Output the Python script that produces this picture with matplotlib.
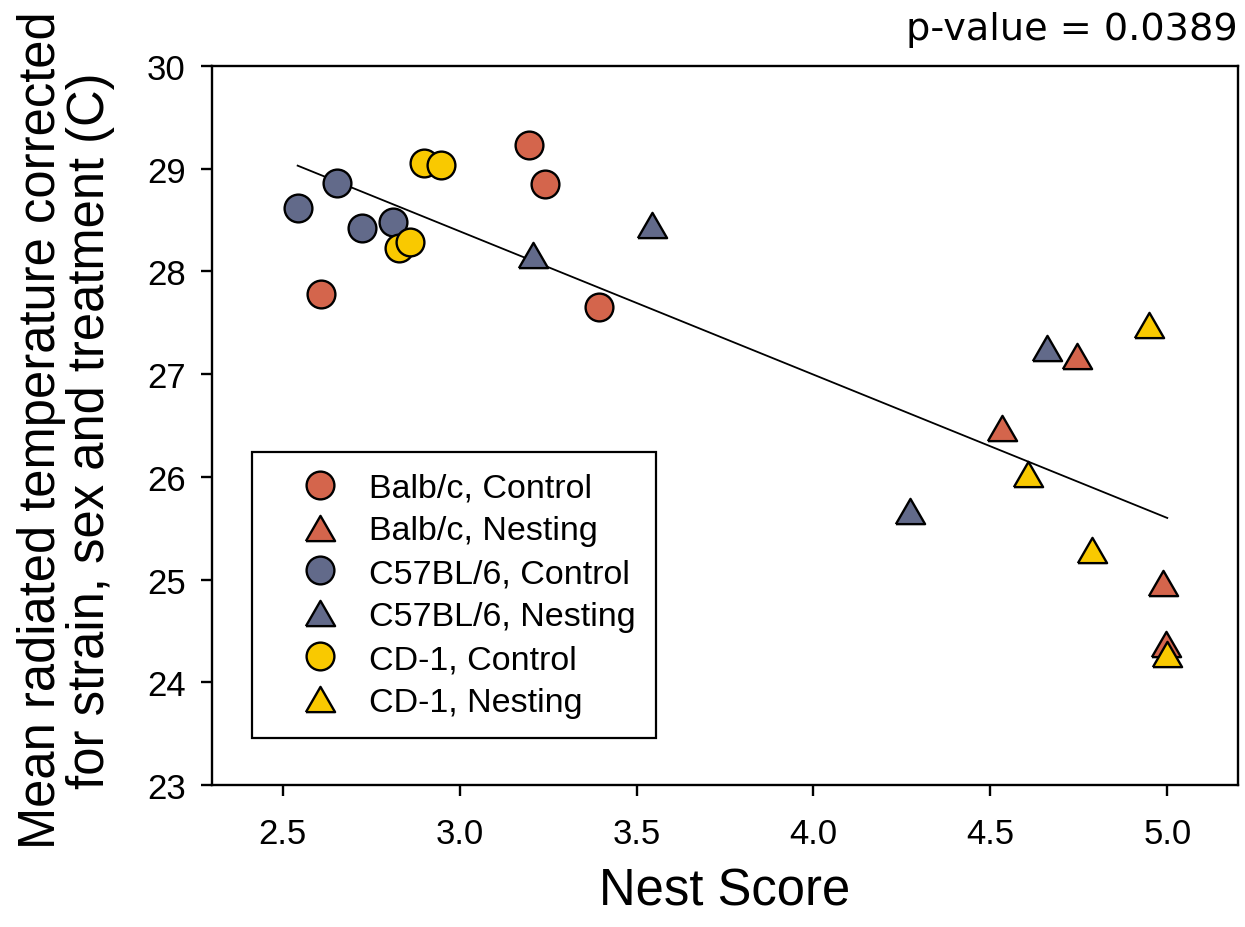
import matplotlib
matplotlib.use("Agg")
import matplotlib.pyplot as plt
from matplotlib.lines import Line2D

# ---------------- data ----------------
balb_ctrl_x = [3.195, 3.240, 2.607, 3.393]
balb_ctrl_y = [29.23, 28.85, 27.78, 27.65]
balb_nest_x = [4.534, 4.746, 4.989, 4.997]
balb_nest_y = [26.48, 27.18, 24.97, 24.37]
c57_ctrl_x = [2.542, 2.653, 2.723, 2.811]
c57_ctrl_y = [28.62, 28.86, 28.42, 28.48]
c57_nest_x = [3.206, 3.545, 4.661, 4.274]
c57_nest_y = [28.16, 28.45, 27.25, 25.67]
cd1_ctrl_x = [2.898, 2.946, 2.828, 2.859]
cd1_ctrl_y = [29.06, 29.04, 28.23, 28.29]
cd1_nest_x = [4.949, 4.607, 4.788, 5.000]
cd1_nest_y = [27.48, 26.03, 25.29, 24.28]
fit_x = [2.542, 5.0]
fit_y = [29.03, 25.60]

x_ticks = [2.5, 3.0, 3.5, 4.0, 4.5, 5.0]
x_tick_labels = ["2.5", "3.0", "3.5", "4.0", "4.5", "5.0"]
y_ticks = [23, 24, 25, 26, 27, 28, 29, 30]
p_text = "p-value = 0.0389"

series_labels = ["Balb/c, Control", "Balb/c, Nesting", "C57BL/6, Control",
                 "C57BL/6, Nesting", "CD-1, Control", "CD-1, Nesting"]

# ---------------- style ----------------
ORANGE = "#D4654C"
SLATE = "#626A8A"
YELLOW = "#F9C900"
TRI = [(-1.0, -0.866), (1.0, -0.866), (0.0, 0.866), (-1.0, -0.866)]

plt.rcParams['font.family'] = ['Liberation Sans', 'DejaVu Sans']

fig = plt.figure(figsize=(12.45, 9.28), dpi=100)
ax = fig.add_axes([0.1703, 0.153, 0.8241, 0.7748])

series = [
    (balb_ctrl_x, balb_ctrl_y, ORANGE, 'o'),
    (balb_nest_x, balb_nest_y, ORANGE, '^'),
    (c57_ctrl_x, c57_ctrl_y, SLATE, 'o'),
    (c57_nest_x, c57_nest_y, SLATE, '^'),
    (cd1_ctrl_x, cd1_ctrl_y, YELLOW, 'o'),
    (cd1_nest_x, cd1_nest_y, YELLOW, '^'),
]

ax.plot(fit_x, fit_y, color='black', lw=1.3, zorder=2)
handles = []
for (xs, ys, c, m), lab in zip(series, series_labels):
    mk = 'o' if m == 'o' else TRI
    ms = 20 if m == 'o' else 21
    ax.plot(xs, ys, linestyle='none', marker=mk, markersize=ms,
            markerfacecolor=c, markeredgecolor='black', markeredgewidth=1.7,
            zorder=3)
    handles.append(Line2D([], [], linestyle='none', marker=mk, markersize=ms,
                          markerfacecolor=c, markeredgecolor='black',
                          markeredgewidth=1.7, label=lab))

ax.set_xlim(2.3, 5.2)
ax.set_ylim(23, 30)
ax.set_xticks(x_ticks)
ax.set_xticklabels(x_tick_labels)
ax.set_yticks(y_ticks)
for s in ax.spines.values():
    s.set_linewidth(1.7)
ax.tick_params(direction='out', length=8, width=1.7, labelsize=25)
ax.tick_params(axis='x', pad=15)
ax.tick_params(axis='y', pad=11)

leg = ax.legend(handles=handles, loc='upper left',
                bbox_to_anchor=(0.039, 0.463), fontsize=24.5,
                frameon=True, fancybox=False, edgecolor='black', framealpha=1,
                borderpad=0.6, labelspacing=0.35, handletextpad=0.05,
                handlelength=2.8, borderaxespad=0.0, markerscale=1.0)
leg.get_frame().set_linewidth(1.6)

fig.text(0.5823, 0.012, "Nest Score", ha='center', va='bottom', fontsize=36.5)

fig.text(0.053, 0.536,
         "Mean radiated temperature corrected\nfor strain, sex and treatment (C)",
         rotation=90, ha='center', va='center', fontsize=36.5,
         linespacing=1.0)

fig.text(0.9944, 0.957, p_text, ha='right', va='baseline', fontsize=27.5,
         family=['DejaVu Sans'])

fig.savefig("out.png", dpi=100)
